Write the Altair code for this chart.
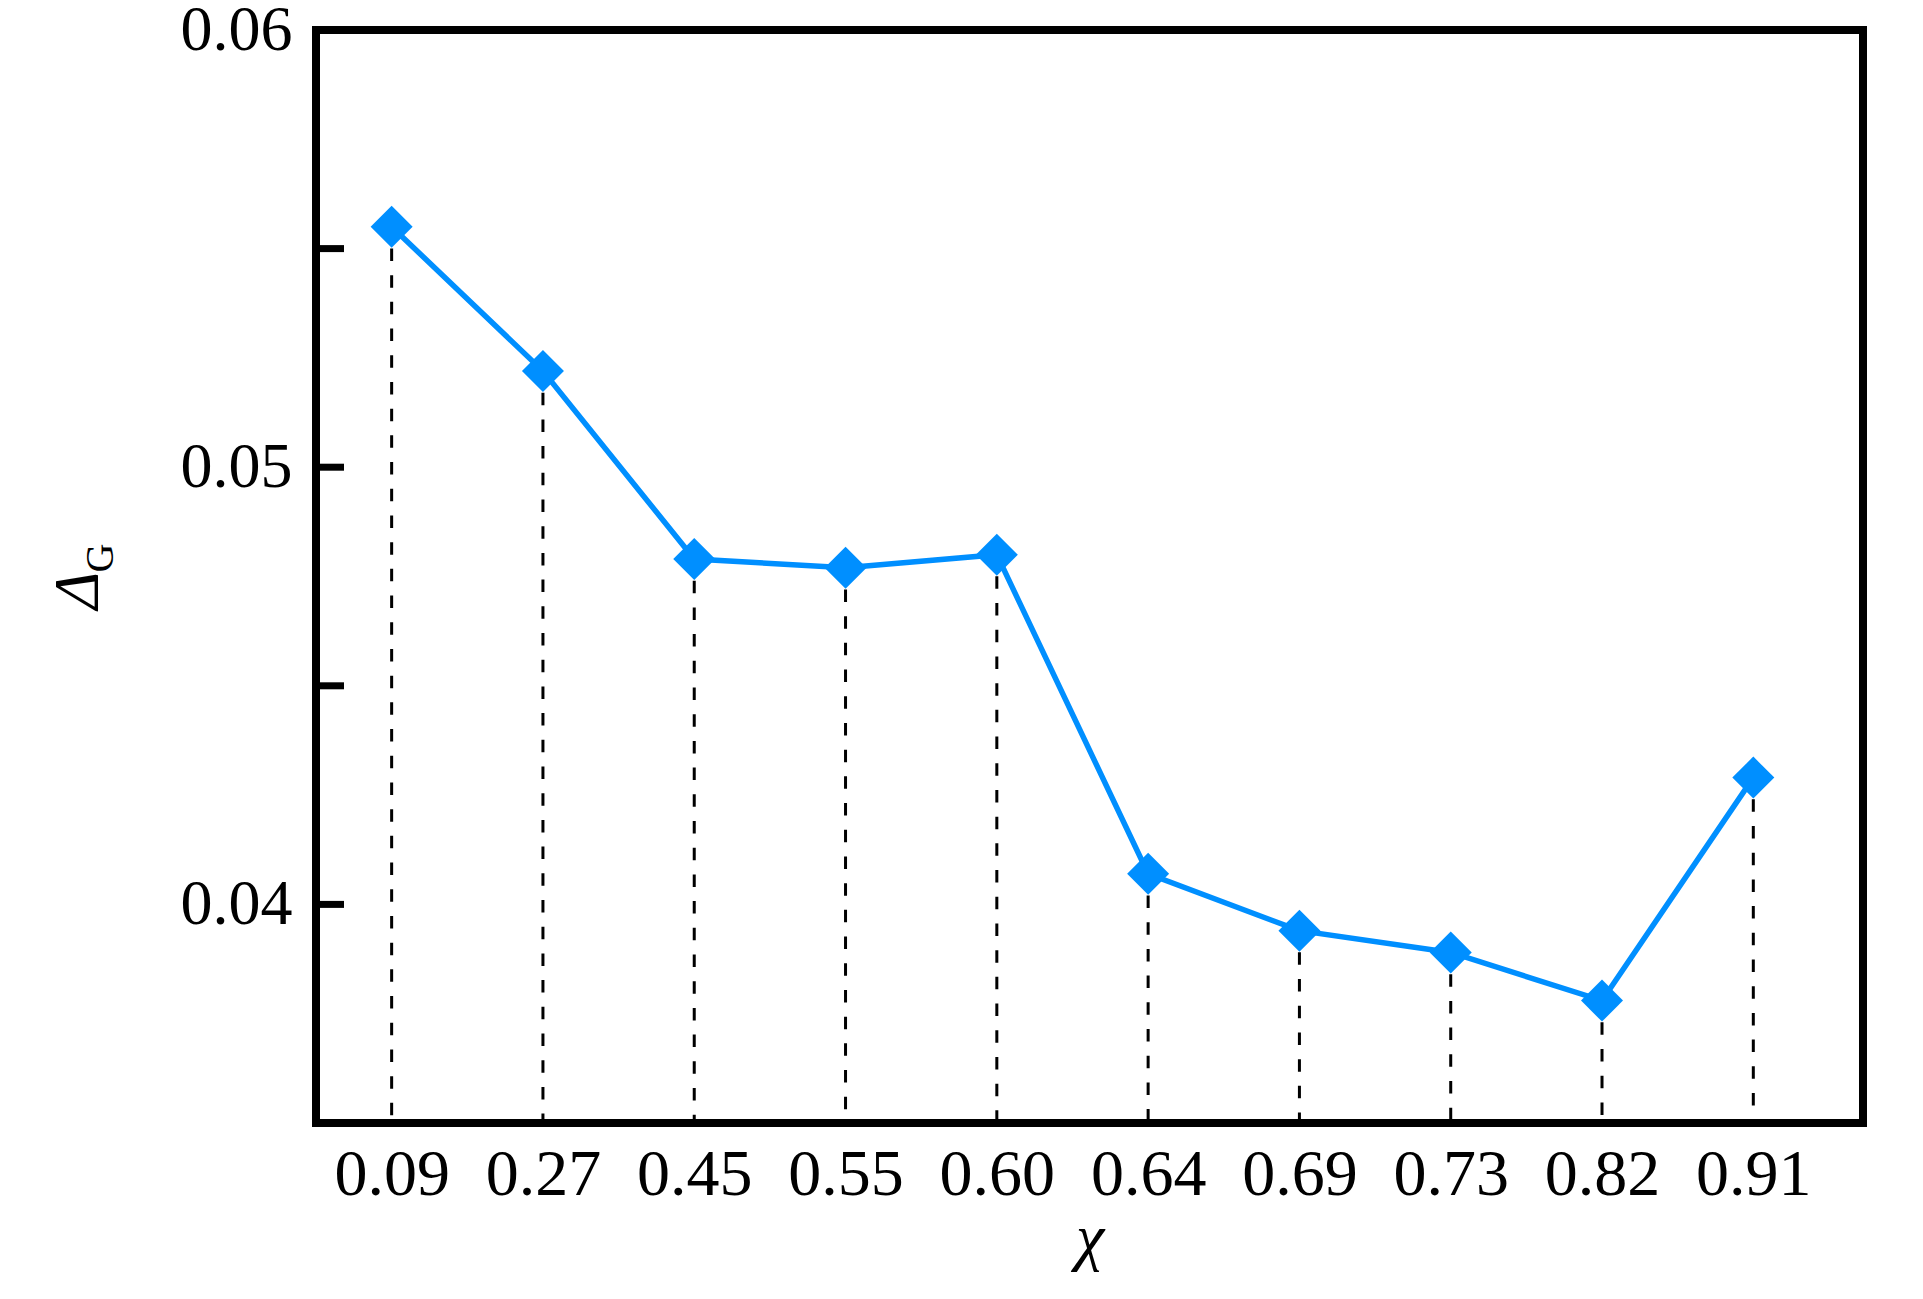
import altair as alt
import pandas as pd

# ---- data ----
chi_labels = ["0.09", "0.27", "0.45", "0.55", "0.60", "0.64", "0.69", "0.73", "0.82", "0.91"]
delta_g = [0.0555, 0.0522, 0.0479, 0.0477, 0.0480, 0.0407, 0.0394, 0.0389, 0.0378, 0.0429]
y_tick_values = [0.04, 0.045, 0.05, 0.055, 0.06]
y_label_values = [0.04, 0.05, 0.06]
y_min, y_max = 0.035, 0.06

df = pd.DataFrame({
    "idx": list(range(len(chi_labels))),
    "chi": chi_labels,
    "dg": delta_g,
})
df["base"] = y_min
ticks_df = pd.DataFrame({"tick": y_tick_values})
sub_df = pd.DataFrame({"t": ["G"]})

FONT = "Liberation Serif"
BLUE = "#008fff"
W, H = 1547, 1093

label_array = "[" + ",".join(f"'{l}'" for l in chi_labels) + "]"

x_scale = alt.Scale(domain=[-0.5, len(chi_labels) - 1 + 0.725], nice=False, zero=False)
y_scale = alt.Scale(domain=[y_min, y_max], nice=False, zero=False)

x_axis = alt.Axis(
    values=list(range(len(chi_labels))),
    labelExpr=f"{label_array}[datum.value]",
    title="χ",
    titleFont=FONT, titleFontSize=64, titleFontStyle="italic", titleFontWeight="normal",
    titleColor="black", titleX=W / 2, titleY=134, titleBaseline="alphabetic", titleAlign="center",
    labelFont=FONT, labelFontSize=66, labelColor="black", labelPadding=19,
    labelFlush=False, labelOverlap=False, labelBound=False,
    ticks=False, domain=False, grid=False,
)
y_axis = alt.Axis(
    values=y_label_values,
    format=".2f",
    title="Δ",
    titleFont=FONT, titleFontSize=64, titleFontStyle="italic", titleFontWeight="normal",
    titleColor="black", titleAngle=270, titleX=-238, titleY=560,
    titleAlign="center", titleBaseline="middle",
    labelFont=FONT, labelFontSize=64, labelColor="black", labelPadding=24,
    labelFlush=False, labelOverlap=False, labelBound=False,
    ticks=False, domain=False, grid=False,
)

x_enc = alt.X("idx:Q", scale=x_scale, axis=x_axis)

rules = alt.Chart(df).mark_rule(
    color="black", strokeWidth=3, strokeDash=[12.5, 14.2], strokeDashOffset=5
).encode(
    x=x_enc,
    y=alt.Y("dg:Q", scale=y_scale, axis=y_axis),
    y2="base:Q",
)

line = alt.Chart(df).mark_line(color=BLUE, strokeWidth=5.5).encode(
    x=x_enc,
    y=alt.Y("dg:Q", scale=y_scale, axis=y_axis),
)

points = alt.Chart(df).mark_point(
    shape="diamond", filled=True, color=BLUE, size=1764, opacity=1
).encode(
    x=x_enc,
    y=alt.Y("dg:Q", scale=y_scale, axis=y_axis),
)

yticks = alt.Chart(ticks_df).mark_rule(color="black", strokeWidth=7).encode(
    y=alt.Y("tick:Q", scale=y_scale, axis=y_axis),
    x=alt.value(0),
    x2=alt.value(28),
)

sub = alt.Chart(sub_df).mark_text(
    font=FONT, fontSize=40, angle=270, align="center", baseline="middle", color="black"
).encode(
    text="t:N",
    x=alt.value(-215),
    y=alt.value(528),
)

chart = alt.layer(rules, line, points, yticks, sub).properties(
    width=W, height=H,
    autosize=alt.AutoSizeParams(type="none"),
    padding={"left": 308, "top": 22, "right": 50, "bottom": 160},
    background="white",
).configure_view(
    stroke="black", strokeWidth=8,
)

chart.save("out.html", embed_options={"renderer": "svg", "actions": False})
